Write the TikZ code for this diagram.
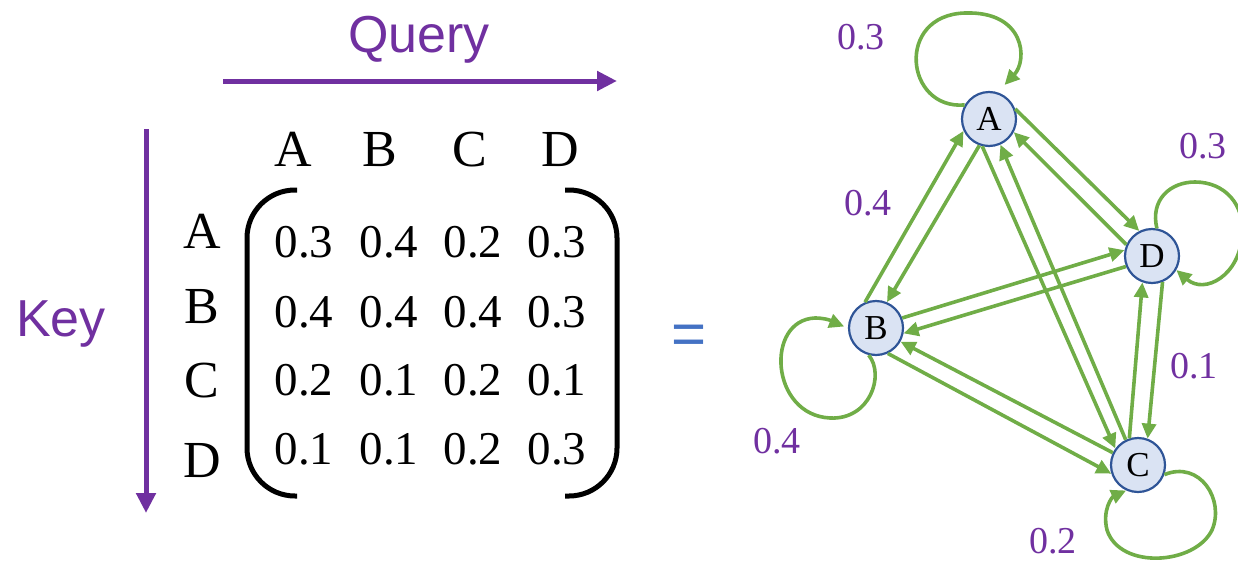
\documentclass[tikz,border=0pt]{standalone}
\usepackage{fontspec}
\setmainfont{Liberation Serif}
\newfontfamily\arialf{Liberation Sans}
\usetikzlibrary{arrows.meta}
\definecolor{qpurple}{HTML}{7030A0}
\definecolor{egreen}{HTML}{70AD47}
\definecolor{nfill}{HTML}{DAE3F3}
\definecolor{nborder}{HTML}{2F5597}
\definecolor{eqblue}{HTML}{4472C4}
\begin{document}
\begin{tikzpicture}[x=1pt,y=-1pt,
  gnode/.style={circle,draw=nborder,fill=nfill,line width=2.2pt,minimum size=54pt,inner sep=0pt,font=\fontsize{35}{35}\selectfont},
  edge/.style={draw=egreen,line width=3.6pt,-{Triangle[length=15pt,width=14pt]}},
  wlabel/.style={text=qpurple,font=\fontsize{38}{38}\selectfont,inner sep=0pt},
  hdr/.style={anchor=base,font=\fontsize{52}{52}\selectfont,inner sep=0pt},
  entry/.style={anchor=base,font=\fontsize{47}{47}\selectfont,inner sep=0pt},
  axisarrow/.style={draw=qpurple,line width=5pt,-{Triangle[length=20pt,width=19pt]}},
  axislabel/.style={text=qpurple,anchor=base,font=\arialf\fontsize{52}{52}\selectfont,inner sep=0pt},
  bracket/.style={draw=black,line width=5pt,rounded corners=48pt}
]
\useasboundingbox (0,0) rectangle (1238,565);

% axes
\node[axislabel] (query) at (419,52) {Query};
\coordinate (q0) at (223,81);
\coordinate (q1) at (617,81);
\draw[axisarrow] (q0) -- (q1);
\node[axislabel] (key) at (61,336) {Key};
\coordinate (k0) at (146,129);
\coordinate (k1) at (146,513);
\draw[axisarrow] (k0) -- (k1);

% column headers
\node[hdr] (cA) at (293,166) {A};
\node[hdr] (cB) at (380,166) {B};
\node[hdr] (cC) at (470,166) {C};
\node[hdr] (cD) at (560,166) {D};
% row headers
\node[hdr] (rA) at (202,248) {A};
\node[hdr] (rB) at (202,323) {B};
\node[hdr] (rC) at (202,397) {C};
\node[hdr] (rD) at (202,477) {D};

% brackets
\draw[bracket] (297,190) -- (247,190) -- (247,496) -- (297,496);
\draw[bracket] (565,190) -- (617,190) -- (617,496) -- (565,496);

% entries
\node[entry] (m11) at (304,257) {0.3};
\node[entry] (m12) at (389,257) {0.4};
\node[entry] (m13) at (473,257) {0.2};
\node[entry] (m14) at (557,257) {0.3};
\node[entry] (m21) at (304,327) {0.4};
\node[entry] (m22) at (389,327) {0.4};
\node[entry] (m23) at (473,327) {0.4};
\node[entry] (m24) at (557,327) {0.3};
\node[entry] (m31) at (304,395) {0.2};
\node[entry] (m32) at (389,395) {0.1};
\node[entry] (m33) at (473,395) {0.2};
\node[entry] (m34) at (557,395) {0.1};
\node[entry] (m41) at (304,464) {0.1};
\node[entry] (m42) at (389,464) {0.1};
\node[entry] (m43) at (473,464) {0.2};
\node[entry] (m44) at (557,464) {0.3};

% equals sign
\node[text=eqblue,font=\arialf\fontsize{60}{60}\selectfont,inner sep=0pt] (eq) at (689,340) {=};

% graph nodes
\node[gnode] (A) at (989,119) {A};
\node[gnode] (B) at (876,328) {B};
\node[gnode] (C) at (1138,465) {C};
\node[gnode] (D) at (1152,256) {D};

% edges
\draw[edge] (B.113) -- (A.205);
\draw[edge] (A.250) -- (B.67);
\draw[edge] (A.256) -- (C.144);
\draw[edge] (C.116) -- (A.294);
\draw[edge] (A.21) -- (D.117);
\draw[edge] (D.156) -- (A.332);
\draw[edge] (B.21) -- (D.168);
\draw[edge] (D.202) -- (B.349);
\draw[edge] (B.295) -- (C.198);
\draw[edge] (C.154) -- (B.331);
\draw[edge] (C.108) -- (D.250);
\draw[edge] (D.292) -- (C.70);

% self loops
\draw[edge,shorten >=10pt] (A.150) .. controls (905,110) and (895,15) .. (965,13)
  .. controls (1025,11) and (1028,60) .. (A.72);
\draw[edge,shorten >=4pt] (B.255) .. controls (885,375) and (870,420) .. (830,418)
  .. controls (770,415) and (765,320) .. (815,318)
  .. controls (830,318) and (838,324) .. (B.180);
\draw[edge] (C.340) .. controls (1200,460) and (1225,500) .. (1212,530)
  .. controls (1195,565) and (1120,570) .. (1107,530)
  .. controls (1102,510) and (1112,497) .. (C.245);
\draw[edge] (D.80) .. controls (1150,200) and (1170,182) .. (1195,182)
  .. controls (1225,182) and (1245,205) .. (1242,235)
  .. controls (1240,275) and (1205,295) .. (D.-30);

% weights
\node[wlabel] (wA) at (861,37) {0.3};
\node[wlabel] (wAB) at (868,203) {0.4};
\node[wlabel] (wD) at (1203,146) {0.3};
\node[wlabel] (wCD) at (1194,366) {0.1};
\node[wlabel] (wB) at (777,441) {0.4};
\node[wlabel] (wC) at (1053,541) {0.2};
\end{tikzpicture}
\end{document}
